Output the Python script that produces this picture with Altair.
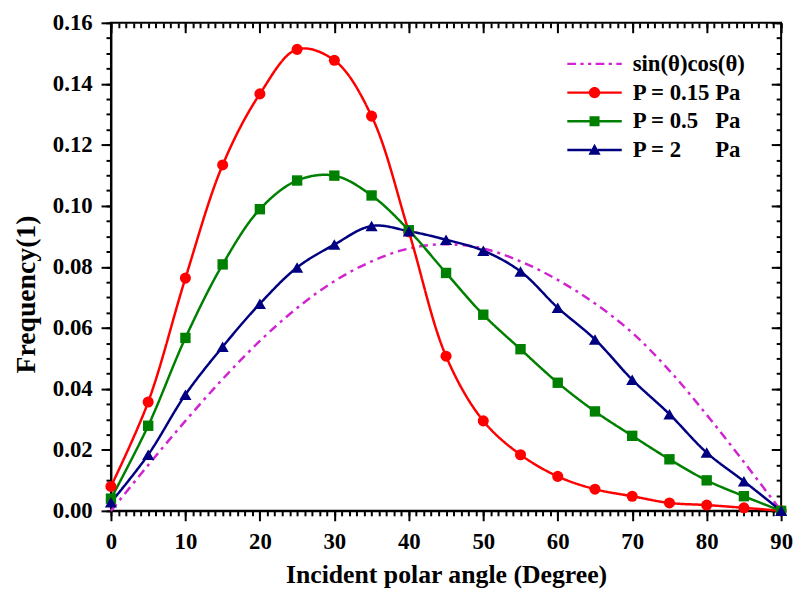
import altair as alt
import pandas as pd

# ---------------- data ----------------
angles = [0, 5, 10, 15, 20, 25, 30, 35, 40, 45, 50, 55, 60, 65, 70, 75, 80, 85, 90]
sincos = [0.0, 0.0150, 0.0295, 0.0432, 0.0557, 0.0665, 0.0753, 0.0818, 0.0860, 0.0874,
          0.0860, 0.0818, 0.0757, 0.0680, 0.0584, 0.0460, 0.0315, 0.0160, 0.0]
p015 = [0.0080, 0.0357, 0.0763, 0.1134, 0.1367, 0.1513, 0.1477, 0.1294, 0.0915, 0.0507,
        0.0295, 0.0184, 0.0113, 0.0071, 0.0048, 0.0026, 0.0019, 0.0010, 0.0]
p05 = [0.0040, 0.0279, 0.0567, 0.0808, 0.0989, 0.1083, 0.1099, 0.1034, 0.0920, 0.0780,
       0.0643, 0.0530, 0.0420, 0.0326, 0.0246, 0.0169, 0.0100, 0.0048, 0.0]
p2 = [0.0028, 0.0184, 0.0381, 0.0538, 0.0679, 0.0798, 0.0873, 0.0934, 0.0917, 0.0889,
      0.0853, 0.0785, 0.0666, 0.0562, 0.0430, 0.0317, 0.0191, 0.0097, 0.0]

NB = "\u00a0"
names = ["sin(θ)cos(θ)", "P = 0.15 Pa", "P = 0.5" + NB * 3 + "Pa", "P = 2" + NB * 6 + "Pa"]
colors = ["#D024D0", "#FF0000", "#008000", "#000080"]
dashes = [[9, 5, 3, 5], [1, 0], [1, 0], [1, 0]]
marker_shapes = ["circle", "square", "triangle-up"]
marker_sizes = [125, 110, 150]

x_ticks = [0, 10, 20, 30, 40, 50, 60, 70, 80, 90]
x_minor = list(range(0, 91))
y_ticks = [0.0, 0.02, 0.04, 0.06, 0.08, 0.10, 0.12, 0.14, 0.16]
y_minor = [round(i * 0.005, 3) for i in range(0, 33)]

rows = []
for nm, vals in zip(names, [sincos, p015, p05, p2]):
    for a, v in zip(angles, vals):
        rows.append({"angle": a, "freq": v, "series": nm})
df = pd.DataFrame(rows)

# legend symbols: line + marker drawn as filled custom paths
def seg(a, b, h=0.22):
    return f"M{a},{-h}H{b}V{h}H{a}Z"

leg_dashdot = " ".join(seg(a, b, 0.2) for a, b in
                       [(-5, -3.4), (-2.6, -2.0), (-1.2, -0.6), (0.2, 1.8), (2.6, 3.2), (4.0, 5.0)])
leg_circle = seg(-5, -1) + " " + seg(1, 5) + " M1.05,0A1.05,1.05 0 1 1 -1.05,0A1.05,1.05 0 1 1 1.05,0Z"
leg_square = seg(-5, -0.9) + " " + seg(0.9, 5) + " M-0.92,-0.92H0.92V0.92H-0.92Z"
leg_tri = seg(-5, -0.6) + " " + seg(0.6, 5) + " M0,-1.15L1.12,0.85H-1.12Z"
legend_paths = [leg_dashdot, leg_circle, leg_square, leg_tri]

FONT = "Liberation Serif"
xs = alt.Scale(domain=[0, 90], nice=False, zero=False)
ys = alt.Scale(domain=[0, 0.16], nice=False, zero=False)
cs = alt.Scale(domain=names, range=colors)

base = alt.Chart(df)

lines = base.mark_line(interpolate="catmull-rom", strokeWidth=2.5).encode(
    x=alt.X("angle:Q", scale=xs, axis=alt.Axis(
        orient="bottom", values=x_ticks, format="d", tickSize=10, labelFontSize=23,
        labelPadding=10, labelFlush=False, title="Incident polar angle (Degree)",
        titleFontSize=26, titlePadding=8, grid=False)),
    y=alt.Y("freq:Q", scale=ys, axis=alt.Axis(
        orient="left", values=y_ticks, format=".2f", tickSize=10, labelFontSize=23,
        labelPadding=9, labelFlush=False, title="Frequency(1)", titleFontSize=28,
        titleX=-85, titleY=274, titleBaseline="middle", titleAlign="center", grid=False)),
    color=alt.Color("series:N", scale=cs, legend=None),
    strokeDash=alt.StrokeDash("series:N", scale=alt.Scale(domain=names, range=dashes), legend=None),
    detail="series:N",
)

point_layers = []
for nm, shp, sz in zip(names[1:], marker_shapes, marker_sizes):
    point_layers.append(
        base.transform_filter(alt.datum.series == nm).mark_point(
            filled=True, size=sz, opacity=1, shape=shp).encode(
            x=alt.X("angle:Q", scale=xs, axis=None),
            y=alt.Y("freq:Q", scale=ys, axis=None),
            color=alt.Color("series:N", scale=cs, legend=None),
        )
    )

leg = alt.Legend(title=None, orient="none", legendX=477, legendY=30, padding=0,
                 labelFont=FONT, labelFontSize=23, labelFontWeight="bold", labelColor="black",
                 labelOffset=27, labelLimit=400, rowPadding=5, symbolSize=121,
                 symbolStrokeWidth=0, symbolOpacity=1)

legend_layer = base.transform_filter("datum.angle < 0").mark_point(filled=True, size=121).encode(
    x=alt.X("angle:Q", scale=xs, axis=None),
    y=alt.Y("freq:Q", scale=ys, axis=None),
    color=alt.Color("series:N", scale=cs, legend=leg),
    shape=alt.Shape("series:N", scale=alt.Scale(domain=names, range=legend_paths), legend=leg),
)

def axis_layer(xaxis, yaxis):
    return base.transform_filter("datum.angle < 0").mark_point(opacity=0).encode(
        x=alt.X("angle:Q", scale=xs, axis=xaxis),
        y=alt.Y("freq:Q", scale=ys, axis=yaxis),
    )

noaxis = dict(labels=False, title=None, domain=False, grid=False)
minor_bl = axis_layer(alt.Axis(orient="bottom", values=x_minor, tickSize=5, **noaxis),
                      alt.Axis(orient="left", values=y_minor, tickSize=5, **noaxis))
major_tr = axis_layer(alt.Axis(orient="top", values=x_ticks, tickSize=10, offset=-10, **noaxis),
                      alt.Axis(orient="right", values=y_ticks, tickSize=10, offset=-10, **noaxis))
minor_tr = axis_layer(alt.Axis(orient="top", values=x_minor, tickSize=5, offset=-5, **noaxis),
                      alt.Axis(orient="right", values=y_minor, tickSize=5, offset=-5, **noaxis))

chart = alt.layer(lines, *point_layers, legend_layer, minor_bl, major_tr, minor_tr).resolve_axis(
    x="independent", y="independent").resolve_scale(
    color="independent", shape="independent").properties(
    width=677, height=493,
    autosize=alt.AutoSizeParams(type="none"),
    padding={"left": 104, "top": 12, "right": 14, "bottom": 79},
).configure_axis(
    labelFont=FONT, titleFont=FONT, labelFontWeight="bold", titleFontWeight="bold",
    labelColor="black", titleColor="black", tickColor="black", domainColor="black",
    tickWidth=2, domainWidth=2,
).configure_view(stroke="black", strokeWidth=2)

chart.save("out.html", embed_options={"renderer": "svg", "actions": False})
